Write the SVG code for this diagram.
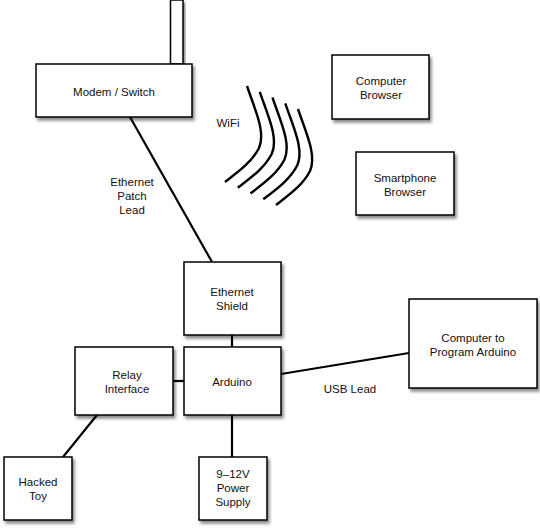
<svg xmlns="http://www.w3.org/2000/svg" width="540" height="529" viewBox="0 0 540 529">
<defs>
<filter id="sh" x="-20%" y="-20%" width="140%" height="150%">
<feDropShadow dx="2" dy="3" stdDeviation="1.8" flood-color="#000" flood-opacity="0.45"/>
</filter>
</defs>
<style>
.box{fill:#fff;stroke:#000;stroke-width:1.5;filter:url(#sh)}
.t{font-family:"Liberation Sans",Arial,sans-serif;font-size:11.5px;fill:#111;text-anchor:middle}
.ln{stroke:#000;stroke-width:2.2;fill:none}
.wf{stroke:#000;stroke-width:2.4;fill:none;stroke-linecap:butt}
</style>
<rect width="540" height="529" fill="#fff"/>
<g id="connectors">
<line class="ln" x1="130" y1="117" x2="212" y2="262"/>
<line class="ln" x1="232" y1="335" x2="232" y2="347"/>
<line class="ln" x1="173" y1="381" x2="184" y2="381"/>
<line class="ln" x1="281" y1="374" x2="409" y2="353"/>
<line class="ln" x1="97" y1="415" x2="63" y2="457"/>
<line class="ln" x1="232" y1="415" x2="232" y2="457"/>
<text class="t" x="132" y="186">Ethernet</text>
<text class="t" x="132" y="200">Patch</text>
<text class="t" x="132" y="214">Lead</text>
<text class="t" x="350" y="393">USB Lead</text>
</g>
<g id="wifi">
<path class="wf" d="M247,86 C255,110 266,132 259,148 C252,162 238,172 225,182"/>
<path class="wf" d="M259.8,91.8 C267.8,115.8 278.8,137.8 271.8,153.8 C264.8,167.8 250.8,177.8 237.8,187.8"/>
<path class="wf" d="M272.5,97.5 C280.5,121.5 291.5,143.5 284.5,159.5 C277.5,173.5 263.5,183.5 250.5,193.5"/>
<path class="wf" d="M285.3,103.3 C293.3,127.3 304.3,149.3 297.3,165.3 C290.3,179.3 276.3,189.3 263.3,199.3"/>
<path class="wf" d="M298,109 C306,133 317,155 310,171 C303,185 289,195 276,205"/>
<text class="t" x="228" y="127">WiFi</text>
</g>
<g id="modem">
<rect class="box" x="170.5" y="0" width="12.5" height="64"/>
<rect class="box" x="36" y="64" width="156" height="53"/>
<text class="t" x="114" y="96">Modem / Switch</text>
</g>
<g id="computer-browser">
<rect class="box" x="332" y="55" width="97" height="64"/>
<text class="t" x="381" y="85">Computer</text>
<text class="t" x="381" y="99">Browser</text>
</g>
<g id="smartphone-browser">
<rect class="box" x="356" y="152" width="98" height="63"/>
<text class="t" x="405" y="182">Smartphone</text>
<text class="t" x="405" y="196">Browser</text>
</g>
<g id="ethernet-shield">
<rect class="box" x="184" y="262" width="97" height="73"/>
<text class="t" x="232" y="296">Ethernet</text>
<text class="t" x="232" y="310">Shield</text>
</g>
<g id="arduino">
<rect class="box" x="184" y="347" width="97" height="68"/>
<text class="t" x="232" y="386">Arduino</text>
</g>
<g id="relay-interface">
<rect class="box" x="75" y="347" width="98" height="68"/>
<text class="t" x="127" y="379">Relay</text>
<text class="t" x="127" y="393">Interface</text>
</g>
<g id="computer-program">
<rect class="box" x="409" y="299" width="128" height="89"/>
<text class="t" x="473" y="342">Computer to</text>
<text class="t" x="473" y="356">Program Arduino</text>
</g>
<g id="hacked-toy">
<rect class="box" x="4" y="457" width="68" height="63"/>
<text class="t" x="38" y="486">Hacked</text>
<text class="t" x="38" y="500">Toy</text>
</g>
<g id="power-supply">
<rect class="box" x="199" y="457" width="68" height="63"/>
<text class="t" x="233" y="478">9–12V</text>
<text class="t" x="233" y="492">Power</text>
<text class="t" x="233" y="506">Supply</text>
</g>
</svg>
